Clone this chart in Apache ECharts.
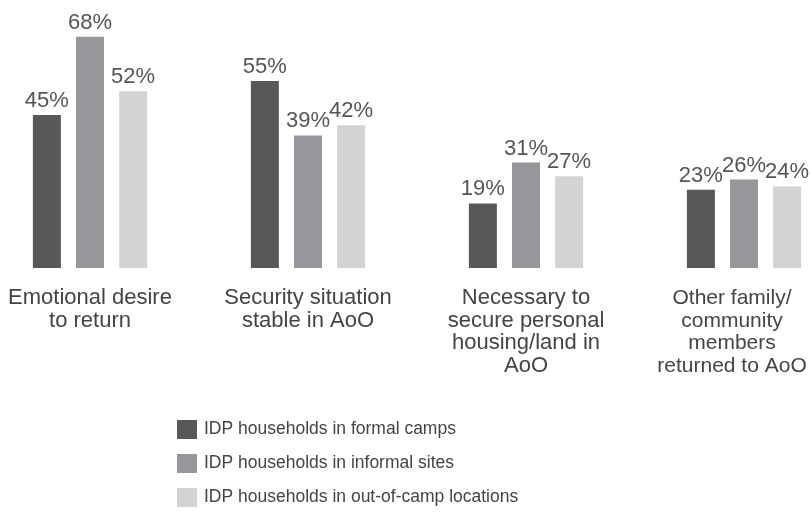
<!DOCTYPE html>
<html>
<head>
<meta charset="utf-8">
<script src="https://cdn.jsdelivr.net/npm/echarts@6/dist/echarts.min.js"></script>
<style>
  html, body { margin: 0; padding: 0; background: #fff; }
  #main { width: 811px; height: 515px; }
</style>
</head>
<body>
<div id="main"></div>
<script>
const categories = [
  'Emotional desire\nto return',
  'Security situation\nstable in AoO',
  'Necessary to\nsecure personal\nhousing/land in\nAoO',
  'Other family/\ncommunity\nmembers\nreturned to AoO'
]
const seriesNames = [
  'IDP households in formal camps',
  'IDP households in informal sites',
  'IDP households in out-of-camp locations'
]
const formalCamps = [45, 55, 19, 23]
const informalSites = [68, 39, 31, 26]
const outOfCamp = [52, 42, 27, 24]
const colors = ['#58585a', '#97979b', '#d2d3d5']

const font = '"Liberation Sans", Arial, sans-serif'
const myChart = echarts.init(document.getElementById('main'))

const makeSeries = (name, data, color) => ({
  name: name,
  type: 'bar',
  data: data,
  barWidth: 28,
  barGap: '54%',
  itemStyle: { color: color },
  label: {
    show: true,
    position: 'top',
    distance: 3,
    formatter: '{c}%',
    fontFamily: font,
    fontSize: 22,
    color: '#555'
  }
})

// last category label sits a bit left so it stays inside the canvas
const categoryData = categories.map((c, i) => (
  i === categories.length - 1
    ? { value: c, textStyle: { fontSize: 21, padding: [0, 24, 0, 0] } }
    : c
))

const option = {
  animation: false,
  textStyle: { fontFamily: font },
  grid: { left: -19, width: 872, bottom: 247, top: 30, outerBoundsMode: 'none', containLabel: false },
  xAxis: {
    type: 'category',
    data: categoryData,
    axisLine: { show: false },
    axisTick: { show: false },
    axisLabel: {
      margin: 19,
      fontFamily: font,
      fontSize: 22,
      lineHeight: 22.5,
      color: '#444',
      interval: 0
    }
  },
  yAxis: {
    type: 'value',
    min: 0,
    max: 70,
    show: false
  },
  legend: {
    orient: 'vertical',
    left: 172,
    top: 415,
    height: 110,
    itemWidth: 20,
    itemHeight: 19,
    itemGap: 15,
    icon: 'rect',
    textStyle: { fontFamily: font, fontSize: 17.5, color: '#444', padding: [0, 0, 0, 2] }
  },
  series: [
    makeSeries(seriesNames[0], formalCamps, colors[0]),
    makeSeries(seriesNames[1], informalSites, colors[1]),
    makeSeries(seriesNames[2], outOfCamp, colors[2])
  ]
}

myChart.setOption(option)
window.addEventListener('resize', () => {
  myChart.resize()
})
</script>
</body>
</html>
